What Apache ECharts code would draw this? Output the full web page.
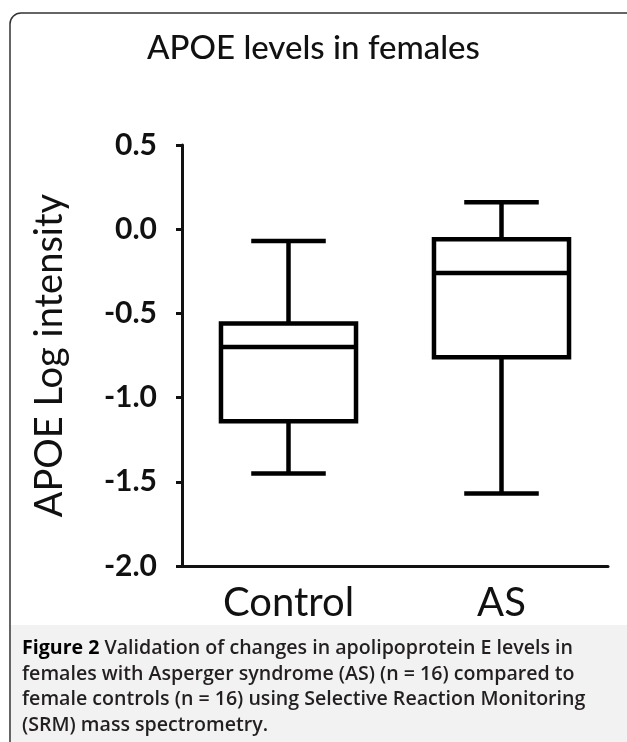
<!DOCTYPE html>
<html>
<head>
<meta charset="utf-8">
<script src="https://cdn.jsdelivr.net/npm/echarts@6/dist/echarts.min.js"></script>
<style>
html,body{margin:0;padding:0;background:#fff;}
#c{width:627px;height:742px;}
</style>
</head>
<body>
<div id="c"></div>
<script>
var categories = ['Control', 'AS'];
var whiskerLow = [-1.45, -1.57];
var q1 = [-1.14, -0.76];
var median = [-0.70, -0.26];
var q3 = [-0.56, -0.06];
var whiskerHigh = [-0.07, 0.16];
var yTicks = { min: -2.0, max: 0.5, interval: 0.5 };

var chart = echarts.init(document.getElementById('c'), null, { renderer: 'canvas' });

var boxData = categories.map(function (c, i) {
  return [i, whiskerLow[i], q1[i], median[i], q3[i], whiskerHigh[i]];
});

function renderBox(params, api) {
  var x = api.value(0);
  var pLow = api.coord([x, api.value(1)]);
  var pQ1 = api.coord([x, api.value(2)]);
  var pMed = api.coord([x, api.value(3)]);
  var pQ3 = api.coord([x, api.value(4)]);
  var pHigh = api.coord([x, api.value(5)]);
  var band = api.size([1, 0])[0];
  var hw = band * 0.317;
  var cw = band * 0.175;
  var cx = pMed[0];
  var st = { stroke: '#000', lineWidth: 4.5, fill: null };
  return {
    type: 'group',
    children: [
      { type: 'line', shape: { x1: cx, y1: pHigh[1], x2: cx, y2: pQ3[1] }, style: st },
      { type: 'line', shape: { x1: cx, y1: pQ1[1], x2: cx, y2: pLow[1] }, style: st },
      { type: 'line', shape: { x1: cx - cw, y1: pHigh[1], x2: cx + cw, y2: pHigh[1] }, style: st },
      { type: 'line', shape: { x1: cx - cw, y1: pLow[1], x2: cx + cw, y2: pLow[1] }, style: st },
      { type: 'rect', shape: { x: cx - hw, y: pQ3[1], width: 2 * hw, height: pQ1[1] - pQ3[1] }, style: { stroke: '#000', lineWidth: 4.5, fill: '#fff' } },
      { type: 'line', shape: { x1: cx - hw, y1: pMed[1], x2: cx + hw, y2: pMed[1] }, style: st }
    ]
  };
}

var option = {
  backgroundColor: '#fff',
  animation: false,
  graphic: [
    { type: 'rect', z: -10, shape: { x: 11, y: 625, width: 620, height: 130 }, style: { fill: '#f2f2f2' } },
    { type: 'rect', z: -5, shape: { x: 10, y: 13, width: 660, height: 760, r: [11, 0, 0, 0] }, style: { fill: null, stroke: '#333', lineWidth: 1.5 } },
    { type: 'text', left: 'center', top: 32, style: { text: 'APOE levels in females', font: '500 33px Lato', fill: '#111' } },
    { type: 'text', z: 10, x: 22, y: 636, style: {
        text: '{b|Figure 2} Validation of changes in apolipoprotein E levels in\nfemales with Asperger syndrome (AS) (n = 16) compared to\nfemale controls (n = 16) using Selective Reaction Monitoring\n(SRM) mass spectrometry.',
        font: '600 19.6px "Open Sans"', fill: '#231f20', lineHeight: 25.5,
        rich: { b: { fontWeight: 'bold', fontFamily: 'Open Sans', fontSize: 19.6, fill: '#000', lineHeight: 25.5 } }
    } }
  ],
  grid: { left: 182, right: 19, top: 145, bottom: 176, containLabel: false },
  xAxis: {
    type: 'category',
    data: categories,
    axisLine: { onZero: false, lineStyle: { color: '#111', width: 3 } },
    axisTick: { alignWithLabel: true, length: 6, lineStyle: { color: '#111', width: 3 } },
    axisLabel: { fontFamily: 'Lato', fontSize: 40, color: '#111', margin: 17 }
  },
  yAxis: {
    type: 'value',
    min: yTicks.min, max: yTicks.max, interval: yTicks.interval,
    name: 'APOE Log intensity',
    nameLocation: 'middle',
    nameGap: 113,
    nameTextStyle: { fontFamily: 'Lato', fontSize: 38, color: '#111' },
    splitLine: { show: false },
    axisLine: { show: true, lineStyle: { color: '#111', width: 3 } },
    axisTick: { show: true, length: 6, lineStyle: { color: '#111', width: 3 } },
    axisLabel: { fontFamily: 'Lato', fontWeight: 'bold', fontSize: 30, color: '#111', margin: 25,
      formatter: function (v) { return v.toFixed(1); } }
  },
  series: [{
    type: 'custom',
    renderItem: renderBox,
    encode: { x: 0, y: [1, 2, 3, 4, 5] },
    data: boxData
  }]
};
chart.setOption(option);
</script>
</body>
</html>
